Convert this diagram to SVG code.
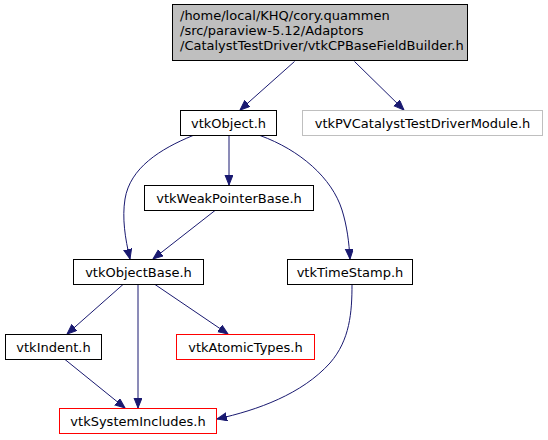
<svg xmlns="http://www.w3.org/2000/svg" width="548" height="440" viewBox="0 0 548 440">
<style>
  .n rect { fill: #ffffff; stroke: #000000; stroke-width: 1; }
  .n.gray rect { stroke: #bfbfbf; }
  .n.red rect { stroke: #ff0000; }
  .n.top rect { fill: #bfbfbf; stroke: #000000; }
  text { font-family: "DejaVu Sans", "Liberation Sans", sans-serif; font-size: 13px; fill: #000000; }
  .c { text-anchor: middle; }
  .e path { fill: none; stroke: #191970; stroke-width: 1; marker-end: url(#ah); }
</style>
<defs>
  <marker id="ah" markerUnits="userSpaceOnUse" markerWidth="11" markerHeight="9" refX="10" refY="4" orient="auto" viewBox="0 0 11 9">
    <path d="M0,0 L10,4 L0,8 z" fill="#191970" stroke="#191970" stroke-width="1"/>
  </marker>
</defs>
<rect width="548" height="440" fill="#ffffff"/>
<g id="edges" class="e">
  <path d="M294.5,61.5 L240,110"/>
  <path d="M354.5,61.5 L404,110"/>
  <path d="M229,135.5 L229,185"/>
  <path d="M193,135.5 C160,149 130,168 125,199 C122,218 125,238 130,259"/>
  <path d="M215,210.5 L153,259"/>
  <path d="M260,135.5 C300,150 332,178 342,210 C347,226 349,242 350,259"/>
  <path d="M123,284.5 L67,334"/>
  <path d="M138,284.5 L138,408"/>
  <path d="M155,284.5 L228,334"/>
  <path d="M65,359.5 L125,408"/>
  <path d="M352,284.5 C352,312 350,340 330,363 C302,394 258,410 217,419"/>
</g>
<g id="node_top" class="n top">
  <rect x="172.5" y="4.5" width="295" height="56"/>
  <text x="180" y="20">/home/local/KHQ/cory.quammen</text>
  <text x="180" y="35">/src/paraview-5.12/Adaptors</text>
  <text x="180" y="50">/CatalystTestDriver/vtkCPBaseFieldBuilder.h</text>
</g>
<g id="node_vtkObject" class="n">
  <rect x="180.5" y="110.5" width="96" height="25"/>
  <text class="c" x="228.5" y="127.5">vtkObject.h</text>
</g>
<g id="node_vtkPVCatalystTestDriverModule" class="n gray">
  <rect x="302.5" y="110.5" width="240" height="25"/>
  <text class="c" x="422.5" y="127.5">vtkPVCatalystTestDriverModule.h</text>
</g>
<g id="node_vtkWeakPointerBase" class="n">
  <rect x="144.5" y="185.5" width="169" height="25"/>
  <text class="c" x="229" y="202.5">vtkWeakPointerBase.h</text>
</g>
<g id="node_vtkObjectBase" class="n">
  <rect x="73.5" y="259.5" width="130" height="25"/>
  <text class="c" x="138.5" y="276.5">vtkObjectBase.h</text>
</g>
<g id="node_vtkTimeStamp" class="n">
  <rect x="287.5" y="259.5" width="125" height="25"/>
  <text class="c" x="350" y="276.5">vtkTimeStamp.h</text>
</g>
<g id="node_vtkIndent" class="n">
  <rect x="5.5" y="334.5" width="96" height="25"/>
  <text class="c" x="53.5" y="351.5">vtkIndent.h</text>
</g>
<g id="node_vtkAtomicTypes" class="n red">
  <rect x="176.5" y="334.5" width="138" height="25"/>
  <text class="c" x="245.5" y="351.5">vtkAtomicTypes.h</text>
</g>
<g id="node_vtkSystemIncludes" class="n red">
  <rect x="59.5" y="408.5" width="157" height="25"/>
  <text class="c" x="138" y="425.5">vtkSystemIncludes.h</text>
</g>
</svg>
